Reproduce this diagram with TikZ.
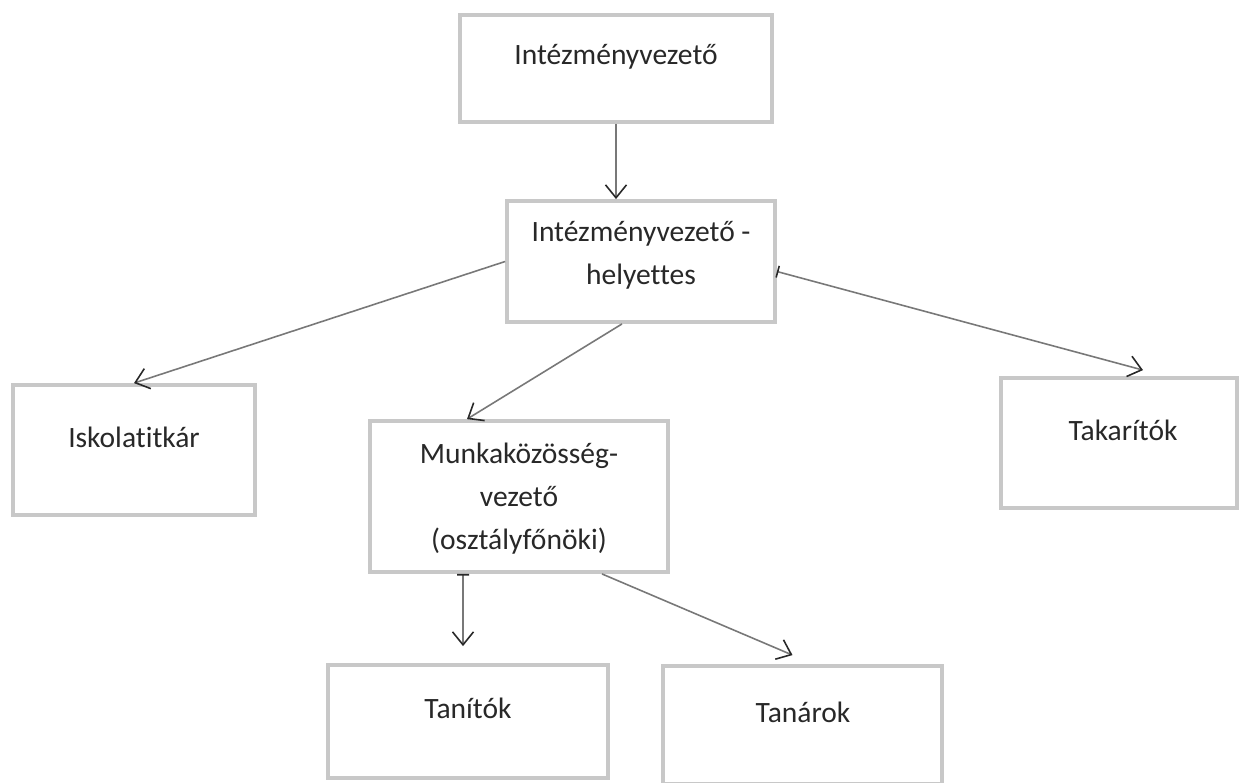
\documentclass[tikz,border=0pt]{standalone}
\usepackage{fontspec}
\setmainfont{Carlito}[Ligatures=NoCommon]
\usetikzlibrary{arrows.meta}
\definecolor{boxgray}{RGB}{200,200,200}
\definecolor{linegray}{RGB}{120,120,120}
\definecolor{inkgray}{RGB}{40,40,40}
\tikzstyle{bx}=[shape=rectangle, draw=boxgray, line width=2.2pt, inner sep=0, fill=white]
\tikzstyle{lbl}=[inner sep=0, text=inkgray, align=center, font=\fontsize{16.8}{24.5}\selectfont]
\tikzstyle{conn}=[draw=linegray, line width=0.9pt, -{Straight Barb[length=2.6mm, width=4.2mm, color=inkgray]}]
\tikzstyle{barconn}=[conn, {Bar[width=2.4mm, color=inkgray]}-{Straight Barb[length=2.6mm, width=4.2mm, color=inkgray]}]

\begin{document}
\begin{tikzpicture}[x=0.02cm, y=-0.02cm]
\fill[white] (0,0) rectangle (1239,782);
\useasboundingbox (0,0) rectangle (1239,782);
\node at (616,68.5)[bx, minimum width=6.24cm, minimum height=2.14cm](vez){};
\node at (641,261.5)[bx, minimum width=5.36cm, minimum height=2.42cm](hely){};
\node at (134,450)[bx, minimum width=4.84cm, minimum height=2.6cm](titkar){};
\node at (519,496.5)[bx, minimum width=5.96cm, minimum height=3.02cm](munka){};
\node at (1119,443)[bx, minimum width=4.72cm, minimum height=2.6cm](takar){};
\node at (468,721.5)[bx, minimum width=5.6cm, minimum height=2.26cm](tanito){};
\node at (802.5,725)[bx, minimum width=5.58cm, minimum height=2.36cm](tanar){};
\node at (616,57)[lbl](vezt){Intézményvezető};
\node at (641,255)[lbl](helyt){Intézményvezető -\\helyettes};
\node at (134,437)[lbl](titkart){Iskolatitkár};
\node at (519,499)[lbl](munkat){Munkaközösség-\\vezető\\(osztályfőnöki)};
\node at (1123,430)[lbl](takart){Takarítók};
\node at (468,708)[lbl](tanitot){Tanítók};
\node at (803,712)[lbl](tanart){Tanárok};
\draw[conn] (vez.south)--(vez.south|-hely.north);
\draw[conn] (hely.west)--(titkar.north);
\draw[conn] ([xshift=-0.38cm]hely.south)--([xshift=-1.04cm]munka.north);
\draw[barconn] ([yshift=-0.2cm]hely.east)--([xshift=0.48cm, yshift=0.12cm]takar.north);
\draw[barconn] ([xshift=-1.12cm]munka.south)--([xshift=-0.1cm, yshift=0.34cm]tanito.north);
\draw[conn] ([xshift=1.66cm]munka.south)--([xshift=-0.2cm, yshift=0.18cm]tanar.north);
\end{tikzpicture}
\end{document}
